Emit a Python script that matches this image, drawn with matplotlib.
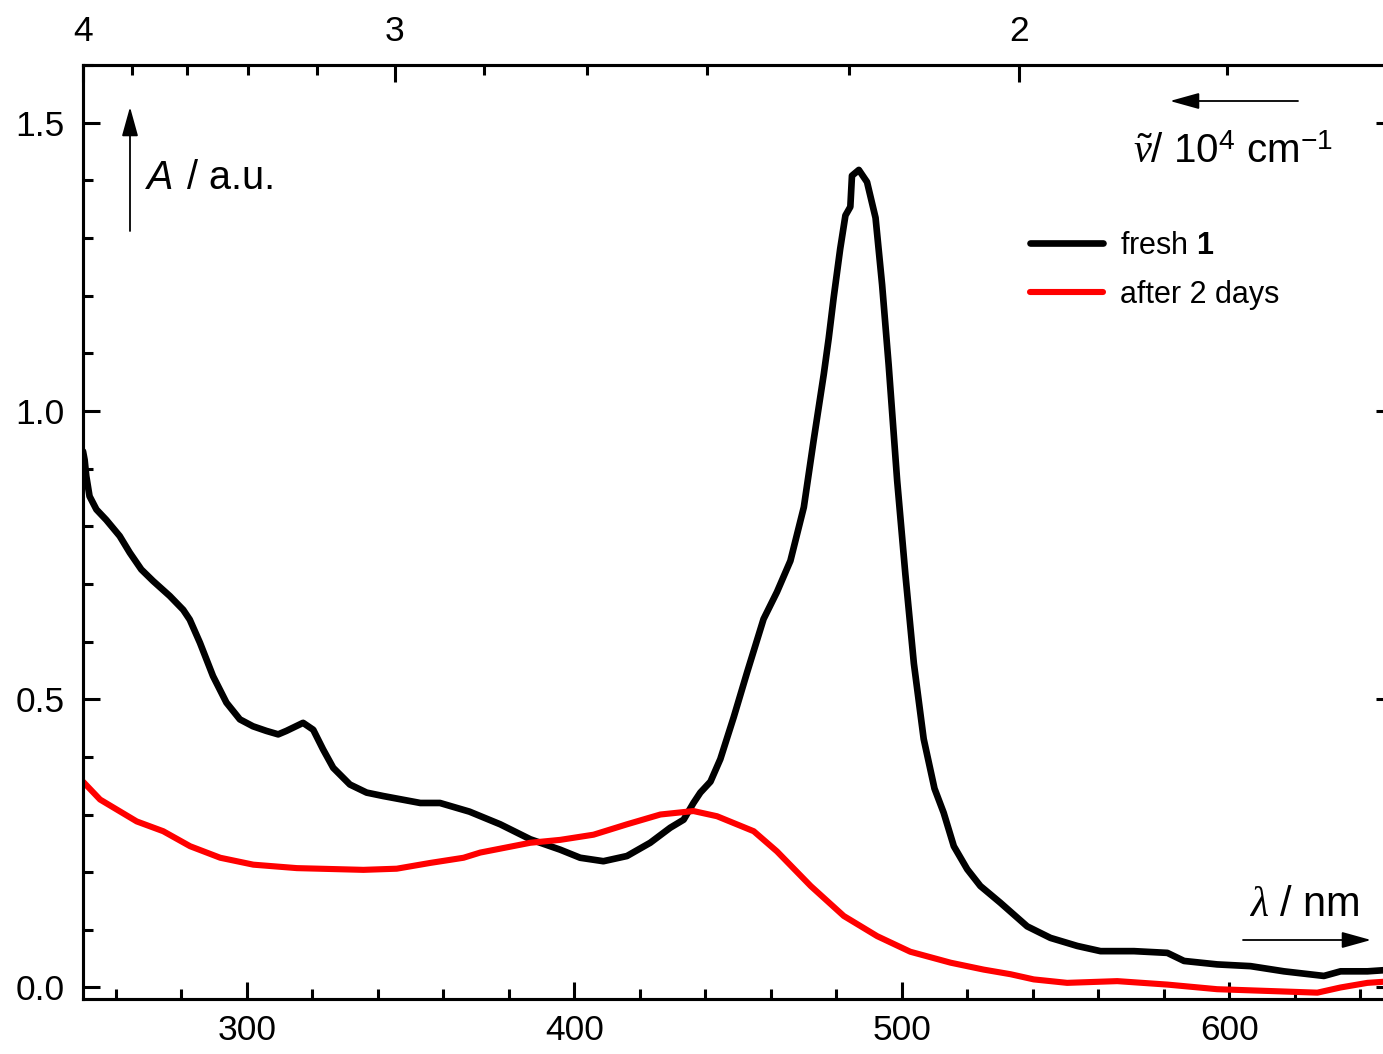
import numpy as np
import matplotlib
matplotlib.use("Agg")
import matplotlib.pyplot as plt
from matplotlib.ticker import MultipleLocator, FixedLocator

plt.rcParams['font.family'] = ['Liberation Sans', 'DejaVu Sans']
plt.rcParams['mathtext.fontset'] = 'custom'
plt.rcParams['mathtext.rm'] = 'Liberation Sans'
plt.rcParams['mathtext.it'] = 'Liberation Serif:italic'
plt.rcParams['mathtext.bf'] = 'Liberation Sans:bold'

# ---- data ----
fresh_nm = [250, 250.5, 251, 252, 254.1, 257.1, 261.2, 264.3, 267.8, 271.4, 276.5, 280.6,
            282.6, 285.7, 289.7, 293.8, 297.9, 301.9, 306, 309.6, 312.1, 317.2, 320.3,
            323.3, 326.4, 331.5, 336.6, 341.7, 353, 359, 368, 377.4, 386.6, 395.7, 401.8,
            408.9, 416.1, 423.2, 429.3, 433.4, 436.4, 438.5, 441.6, 444.6, 448.7, 452.8,
            457.8, 461.9, 466, 470.1, 473.1, 476.2, 477.7, 479.2, 481.2, 482.8, 484.3,
            484.8, 486.9, 489.4, 492, 494, 496, 498.6, 501.1, 503.7, 506.7, 510, 512.8,
            515.9, 520, 524, 530.1, 538.3, 545.4, 553.6, 560.7, 570.9, 581.1, 586.2,
            596.3, 606.5, 616.7, 628.9, 634, 642.2, 650]
fresh_A = [0.93, 0.915, 0.887, 0.852, 0.829, 0.811, 0.783, 0.754, 0.725, 0.705, 0.679, 0.655,
           0.638, 0.598, 0.54, 0.494, 0.465, 0.453, 0.445, 0.439, 0.445, 0.459, 0.447,
           0.413, 0.381, 0.352, 0.338, 0.332, 0.32, 0.32, 0.305, 0.283, 0.257, 0.239, 0.225,
           0.219, 0.228, 0.251, 0.277, 0.291, 0.32, 0.338, 0.357, 0.396, 0.469, 0.547,
           0.639, 0.686, 0.740, 0.833, 0.949, 1.064, 1.126, 1.196, 1.281, 1.339, 1.354,
           1.408, 1.418, 1.397, 1.335, 1.219, 1.080, 0.879, 0.717, 0.562, 0.431, 0.345, 0.303,
           0.245, 0.205, 0.176, 0.147, 0.106, 0.086, 0.072, 0.063, 0.063, 0.06, 0.046,
           0.04, 0.037, 0.028, 0.020, 0.028, 0.028, 0.031]

aged_nm = [250, 255.2, 266.4, 274.5, 282.7, 291.9, 302, 315.3, 335.6, 345.8, 356, 366.2,
           371.3, 386.6, 395.7, 405.9, 416.1, 426.3, 436.4, 443.6, 454.8, 461.9, 472.2,
           482.3, 492.5, 502.6, 514.9, 525, 533.2, 540.3, 550.5, 565.8, 581.1, 596.3,
           611.6, 626.9, 634, 642.2, 650]
aged_A = [0.357, 0.326, 0.288, 0.271, 0.245, 0.225, 0.213, 0.207, 0.204, 0.206, 0.216, 0.225,
          0.234, 0.251, 0.256, 0.265, 0.283, 0.300, 0.306, 0.297, 0.271, 0.236, 0.176,
          0.124, 0.089, 0.062, 0.043, 0.031, 0.023, 0.014, 0.008, 0.011, 0.005, -0.003,
          -0.006, -0.009, 0.0, 0.008, 0.011]

series_labels = ['fresh $\\mathbf{1}$', 'after 2 days']
series_colors = ['black', '#ff0000']

bottom_ticks = [300, 400, 500, 600]
top_major = [4, 3, 2]
top_minor = [3.8, 3.6, 3.4, 3.2, 2.8, 2.6, 2.4, 2.2, 1.8]
top_span_nm = 350.0   # top wavenumber scale spans 250..600 nm across the frame

W, H = 1383, 1054
fig = plt.figure(figsize=(W / 100, H / 100), dpi=100)
ax = fig.add_axes([83 / W, 55 / H, (1393 - 83) / W, (999 - 65) / H])

ax.plot(fresh_nm, fresh_A, color=series_colors[0], lw=4.8, label=series_labels[0],
        solid_joinstyle='round', solid_capstyle='round')
ax.plot(aged_nm, aged_A, color=series_colors[1], lw=4.4, label=series_labels[1],
        solid_joinstyle='round', solid_capstyle='round')

ax.set_xlim(250, 650)
ax.set_ylim(-0.02, 1.6)
ax.xaxis.set_major_locator(FixedLocator(bottom_ticks))
ax.xaxis.set_minor_locator(MultipleLocator(20))
ax.yaxis.set_major_locator(MultipleLocator(0.5))
ax.yaxis.set_minor_locator(MultipleLocator(0.1))
ax.yaxis.set_major_formatter(matplotlib.ticker.FormatStrFormatter('%.1f'))

for s in ax.spines.values():
    s.set_linewidth(2.2)

ax.tick_params(which='both', direction='in', width=2.2, top=False, right=True,
               labelsize=25.5)
ax.tick_params(which='major', length=12)
ax.tick_params(which='minor', length=7)
ax.tick_params(axis='x', pad=11)
ax.tick_params(axis='y', pad=13)

# top wavenumber axis
def nu_to_pos(nu):
    return 250 + (1000.0 / np.asarray(nu) - 250) * (650 - 250) / top_span_nm

ax2 = ax.twiny()
ax2.set_xlim(ax.get_xlim())
ax2.xaxis.set_major_locator(FixedLocator(nu_to_pos(top_major)))
ax2.xaxis.set_minor_locator(FixedLocator(nu_to_pos(top_minor)))
ax2.set_xticklabels([str(v) for v in top_major])
ax2.tick_params(which='both', direction='in', width=2.2, labelsize=25.5, pad=12)
ax2.tick_params(which='major', length=12)
ax2.tick_params(which='minor', length=7)
for s in ax2.spines.values():
    s.set_linewidth(2.2)

# legend
leg = ax.legend(loc='upper left', bbox_to_anchor=(1030 / W, 1 - 231 / H),
                bbox_transform=fig.transFigure, frameon=False, fontsize=22,
                handlelength=2.4, handletextpad=0.55, labelspacing=0.62,
                borderpad=0, borderaxespad=0)

def fx(x):
    return x / W

def fy(y):
    return 1 - y / H

arrow = dict(arrowstyle='-|>,head_length=0.9,head_width=0.25', lw=1.3, color='black',
             shrinkA=0, shrinkB=0, mutation_scale=20)
# y axis label + arrow
ax.annotate('', xy=(fx(130), fy(107)), xytext=(fx(130), fy(231)),
            xycoords='figure fraction', textcoords='figure fraction', arrowprops=arrow)
fig.text(fx(147), fy(189), 'A', fontsize=28.5, style='italic', ha='left', va='baseline')
fig.text(fx(187), fy(189), '/ a.u.', fontsize=28.5, ha='left', va='baseline')

# wavenumber label + arrow
ax.annotate('', xy=(fx(1170), fy(101)), xytext=(fx(1298), fy(101)),
            xycoords='figure fraction', textcoords='figure fraction', arrowprops=arrow)
fig.text(fx(1133), fy(163), r'$\tilde{\nu}$/ 10$^{4}$ cm$^{-1}$', fontsize=29,
         ha='left', va='baseline')

# wavelength label + arrow
ax.annotate('', xy=(fx(1371), fy(940)), xytext=(fx(1243), fy(940)),
            xycoords='figure fraction', textcoords='figure fraction', arrowprops=arrow)
fig.text(fx(1249), fy(916), r'$\lambda$ / nm', fontsize=30, ha='left', va='baseline')

fig.savefig('out.png', dpi=100)
